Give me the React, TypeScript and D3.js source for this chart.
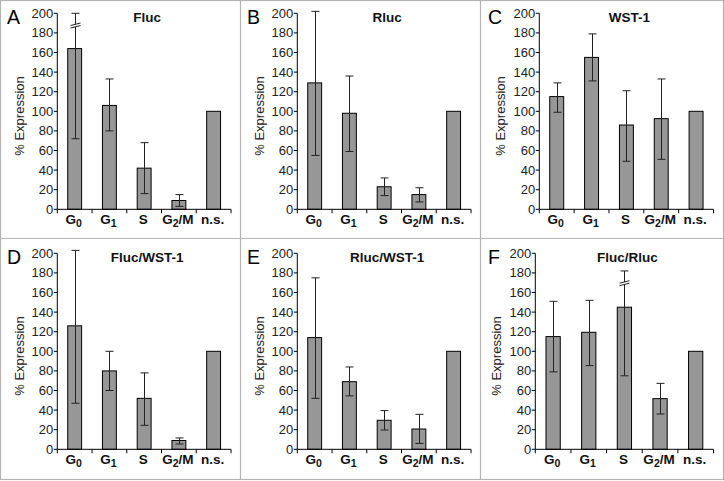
import React from "react";
import * as d3 from "d3";

const categories = ["G0", "G1", "S", "G2/M", "n.s."];
const panelLetters = ["A", "B", "C", "D", "E", "F"];
const panelTitles = ["Fluc", "Rluc", "WST-1", "Fluc/WST-1", "Rluc/WST-1", "Fluc/Rluc"];
const yTicks = [0, 20, 40, 60, 80, 100, 120, 140, 160, 180, 200];

// mean values per panel (A..F), categories G0, G1, S, G2/M, n.s.
const meanA = [164, 106, 42, 9, 100];
const lowA = [72, 80, 16, 3, null];
const highA = [200, 133, 68, 15, null];
const breakA = [188, null, null, null, null];

const meanB = [129, 98, 23, 15, 100];
const lowB = [55, 59, 14, 7.5, null];
const highB = [202, 136, 32, 22, null];
const breakB = [null, null, null, null, null];

const meanC = [115, 155, 86, 92.5, 100];
const lowC = [99, 131, 49, 51, null];
const highC = [129, 179, 121, 133, null];
const breakC = [null, null, null, null, null];

const meanD = [126, 80, 52, 9, 100];
const lowD = [47, 60, 24.5, 5.4, null];
const highD = [203, 100, 78, 11.6, null];
const breakD = [null, null, null, null, null];

const meanE = [114, 69, 29.6, 20.7, 100];
const lowE = [52, 54.5, 19.7, 6, null];
const highE = [175, 84, 39.5, 35.7, null];
const breakE = [null, null, null, null, null];

const meanF = [115, 119.4, 145, 51.7, 100];
const lowF = [79, 85.4, 75, 36, null];
const highF = [151, 152, 182, 67.3, null];
const breakF = [null, null, 170, null, null];

const means = [meanA, meanB, meanC, meanD, meanE, meanF];
const lows = [lowA, lowB, lowC, lowD, lowE, lowF];
const highs = [highA, highB, highC, highD, highE, highF];
const breaks = [breakA, breakB, breakC, breakD, breakE, breakF];

// layout
const W = 724;
const H = 481;
const panelX = [0, 240, 481];
const panelY = [0, 240];
const axisLeft = [57.3, 297.3, 539.3, 57.3, 297.3, 535.3];
const axisRight = [231, 471, 713.5, 231, 471, 713.5];
const plotTop = [13.3, 253.3];
const plotBottom = [209.3, 449.3];

const FONT = "Liberation Sans, Arial, Helvetica, sans-serif";
const BAR_FILL = "#979797";
const ERR = "#222";

function CatLabel({ label, x, y }: { label: string; x: number; y: number }) {
  const m = label.match(/^G(\d)(.*)$/);
  if (m) {
    return (
      <text x={x} y={y} textAnchor="middle" fontFamily={FONT} fontSize={13.5} fontWeight="bold" fill="#111">
        G
        <tspan fontSize={10.5} dy={3}>{m[1]}</tspan>
        {m[2] ? <tspan dy={-3}>{m[2]}</tspan> : null}
      </text>
    );
  }
  return (
    <text x={x} y={y} textAnchor="middle" fontFamily={FONT} fontSize={13.5} fontWeight="bold" fill="#111">
      {label}
    </text>
  );
}

function Panel({ idx }: { idx: number }) {
  const col = idx % 3;
  const row = Math.floor(idx / 3);
  const px = panelX[col];
  const py = panelY[row];
  const x0 = axisLeft[idx];
  const x1 = axisRight[idx];
  const y = d3.scaleLinear().domain([0, 200]).range([plotBottom[row], plotTop[row]]);
  const x = d3.scaleBand<string>().domain(categories).range([x0, x1]).paddingInner(0.6).paddingOuter(0.3);
  const step = (x1 - x0) / categories.length;
  const bw = x.bandwidth();
  const yb = plotBottom[row];
  const boundaries = d3.range(categories.length + 1).map((i) => x0 + i * step);
  const catCenter = (i: number) => x0 + (i + 0.5) * step;

  return (
    <g>
      <text x={px + 7} y={py + 24} fontFamily={FONT} fontSize={19.5} fill="#000">
        {panelLetters[idx]}
      </text>
      <text
        x={(x0 + x1) / 2 + 3}
        y={py + 21.5}
        textAnchor="middle"
        fontFamily={FONT}
        fontSize={13.5}
        fontWeight="bold"
        fill="#111"
      >
        {panelTitles[idx]}
      </text>
      <text
        transform={`translate(${px + 24 - (idx === 5 ? 4 : 0)},${py + 116}) rotate(-90)`}
        textAnchor="middle"
        fontFamily={FONT}
        fontSize={13}
        fill="#222"
      >
        % Expression
      </text>
      {categories.map((c, i) => {
        const cx = catCenter(i);
        const v = means[idx][i];
        return (
          <rect
            key={c}
            x={cx - bw / 2}
            y={y(v)}
            width={bw}
            height={yb - y(v)}
            fill={BAR_FILL}
            stroke="#000"
            strokeWidth={1}
          />
        );
      })}
      {categories.map((c, i) => {
        const lo = lows[idx][i];
        const hi = highs[idx][i];
        if (lo == null || hi == null) return null;
        const cx = Math.round(catCenter(i)) + 0.5;
        const br = breaks[idx][i];
        return (
          <g key={"e" + c} stroke={ERR} strokeWidth={1} fill="none">
            <line x1={cx} x2={cx} y1={y(hi)} y2={y(lo)} />
            <line x1={cx - 4} x2={cx + 4} y1={y(hi)} y2={y(hi)} />
            <line x1={cx - 4} x2={cx + 4} y1={y(lo)} y2={y(lo)} />
            {br != null ? (
              <g>
                <path
                  d={`M${cx - 5},${y(br) + 0.5} L${cx + 5},${y(br) - 2} L${cx + 5},${y(br) + 0.5} L${cx - 5},${y(br) + 3} Z`}
                  fill="#fff"
                  stroke="none"
                />
                <path d={`M${cx - 5},${y(br) + 0.5} L${cx + 5},${y(br) - 2}`} />
                <path d={`M${cx - 5},${y(br) + 3} L${cx + 5},${y(br) + 0.5}`} />
              </g>
            ) : null}
          </g>
        );
      })}
      <line x1={x0} x2={x0} y1={y(200)} y2={yb} stroke="#000" strokeWidth={1} />
      {yTicks.map((t) => (
        <g key={t}>
          <line x1={x0 - 3.5} x2={x0} y1={y(t)} y2={y(t)} stroke="#000" strokeWidth={1} />
          <text
            x={x0 - 4}
            y={y(t)}
            dy="0.35em"
            textAnchor="end"
            fontFamily={FONT}
            fontSize={13}
            fill="#222"
          >
            {t}
          </text>
        </g>
      ))}
      <line x1={x0} x2={x1} y1={yb} y2={yb} stroke="#000" strokeWidth={1} />
      {boundaries.map((b, i) => (
        <line key={"b" + i} x1={b} x2={b} y1={yb} y2={yb + 4} stroke="#000" strokeWidth={1} />
      ))}
      {categories.map((c, i) => (
        <CatLabel key={"l" + c} label={c} x={catCenter(i) - 1} y={yb + 15} />
      ))}
    </g>
  );
}

export default function App() {
  return (
    <svg
      width={W}
      height={H}
      viewBox={`0 0 ${W} ${H}`}
      style={{ position: "absolute", left: 0, top: 0, background: "#fff" }}
    >
      <rect x={0} y={0} width={W} height={H} fill="#fff" />
      <g stroke="#b4b4b4" strokeWidth={1.2} fill="none">
        <rect x={0.5} y={0.5} width={723} height={479} />
        <line x1={240.5} x2={240.5} y1={0} y2={480} />
        <line x1={480.5} x2={480.5} y1={0} y2={480} />
        <line x1={0} x2={724} y1={238.5} y2={238.5} />
      </g>
      {d3.range(6).map((i) => (
        <Panel key={i} idx={i} />
      ))}
    </svg>
  );
}
